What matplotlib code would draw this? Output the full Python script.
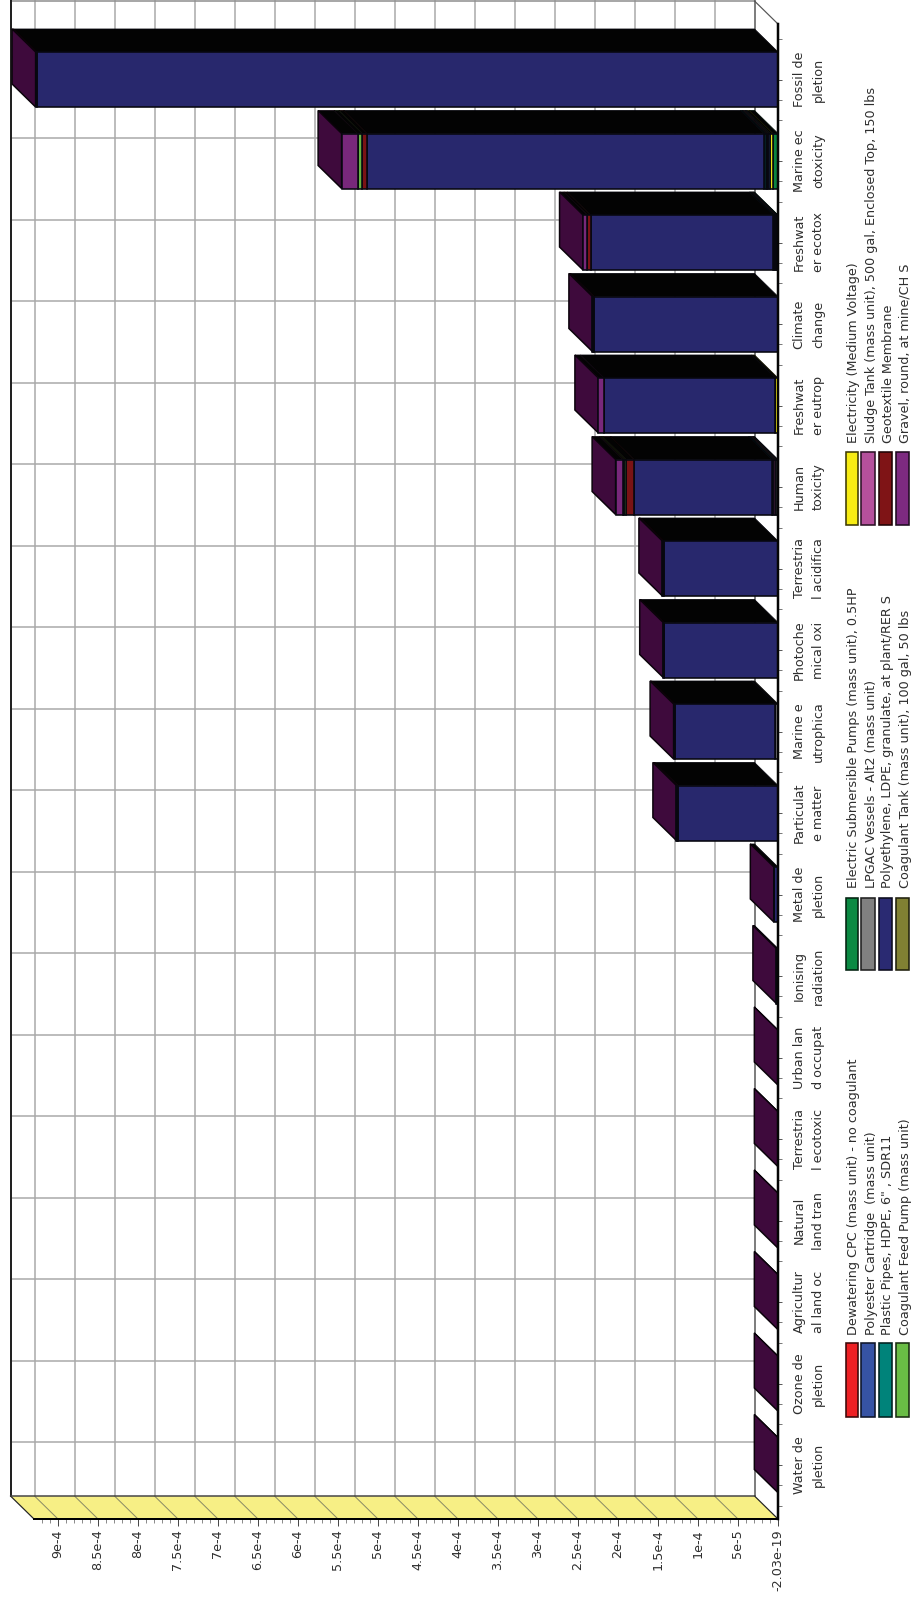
import numpy as np
import matplotlib
matplotlib.use("Agg")
import matplotlib.pyplot as plt
from matplotlib.patches import Polygon, Rectangle
from matplotlib.colors import to_rgb

W, H = 916, 1600

categories = ["Fossil de\npletion", "Marine ec\notoxicity", "Freshwat\ner ecotox", "Climate\nchange",
              "Freshwat\ner eutrop", "Human\ntoxicity", "Terrestria\nl acidifica", "Photoche\nmical oxi",
              "Marine e\nutrophica", "Particulat\ne matter", "Metal de\npletion", "Ionising\nradiation",
              "Urban lan\nd occupat", "Terrestria\nl ecotoxic", "Natural\nland tran", "Agricultur\nal land oc",
              "Ozone de\npletion", "Water de\npletion"]

# values in units of 1e-6, stacking order from the axis outwards
dewatering = [0, 0, 0, 0, 0, 0, 0, 0, 0, 0, 0, 0, 0, 0, 0, 0, 0, 0]
electric_pumps = [0, 6.5, 1.2, 0, 0, 0, 0, 0, 0, 0, 0, 0, 0, 0, 0, 0, 0, 0]
electricity = [0, 3.5, 0, 0, 3.5, 0, 0, 0, 0, 0, 0, 0, 0, 0, 0, 0, 0, 0]
polyester = [0, 2, 1.3, 0, 0, 1.5, 0, 0, 0, 0, 0, 0, 0, 0, 0, 0, 0, 0]
lpgac = [0, 2, 1.3, 0, 0, 2, 0, 0, 3.5, 0, 0, 0, 0, 0, 0, 0, 0, 0]
sludge = [0, 1.5, 1.2, 0, 0, 2.5, 0, 0, 0, 0, 0, 0, 0, 0, 0, 0, 0, 0]
plastic_pipes = [0, 2, 1.2, 0, 0, 1.5, 0, 0, 0, 0, 0, 0, 0, 0, 0, 0, 0, 0]
polyethylene = [926, 496, 228, 230, 214, 172.5, 142.5, 142.5, 125, 125, 5, 1.5, 0.2, 0.2, 0.2, 0.2, 0.2, 0.2]
geotextile = [1, 6, 4, 1, 0, 10, 1, 0.5, 1, 1, 0, 0, 0, 0, 0, 0, 0, 0]
feed_pump = [0, 6, 0, 0, 0, 2, 0, 0, 0, 0, 0, 0, 0, 0, 0, 0, 0, 0]
coag_tank = [0, 0, 0, 0, 0, 2, 0, 0, 0, 0, 0, 0, 0, 0, 0, 0, 0, 0]
gravel = [1, 20, 5.5, 1, 7, 9, 1, 0.5, 1, 1, 0.2, 0.5, 0, 0, 0, 0, 0, 0]

series = [dewatering, electric_pumps, electricity, polyester, lpgac, sludge,
          plastic_pipes, polyethylene, geotextile, feed_pump, coag_tank, gravel]
names = ["Dewatering CPC (mass unit) - no coagulant",
         "Electric Submersible Pumps (mass unit), 0.5HP",
         "Electricity (Medium Voltage)",
         "Polyester Cartridge  (mass unit)",
         "LPGAC Vessels - Alt2 (mass unit)",
         "Sludge Tank (mass unit), 500 gal, Enclosed Top, 150 lbs",
         "Plastic Pipes, HDPE, 6\" , SDR11",
         "Polyethylene, LDPE, granulate, at plant/RER S",
         "Geotextile Membrane",
         "Coagulant Feed Pump (mass unit)",
         "Coagulant Tank (mass unit), 100 gal, 50 lbs",
         "Gravel, round, at mine/CH S"]
colors = ["#ee2024", "#0b8a43", "#f7ec13", "#3653a4", "#808080", "#b5509c",
          "#00837a", "#2a2a72", "#7f1416", "#69bd45", "#808033", "#7d2a80"]

value_ticks = [0, 5e-5, 1e-4, 1.5e-4, 2e-4, 2.5e-4, 3e-4, 3.5e-4, 4e-4, 4.5e-4, 5e-4,
               5.5e-4, 6e-4, 6.5e-4, 7e-4, 7.5e-4, 8e-4, 8.5e-4, 9e-4]
value_labels = ["-2.03e-19", "5e-5", "1e-4", "1.5e-4", "2e-4", "2.5e-4", "3e-4", "3.5e-4", "4e-4",
                "4.5e-4", "5e-4", "5.5e-4", "6e-4", "6.5e-4", "7e-4", "7.5e-4", "8e-4", "8.5e-4", "9e-4"]


def darken(c, f):
    return tuple(v * f for v in to_rgb(c))


TEXT = "#2e2e2e"
FS = 9.2
VALUE_PER_PX = 1.25e-6
CAT_PX = 81.5
DX = 23.5 * VALUE_PER_PX
DY = -23 / CAT_PX
HALF = 27.5 / CAT_PX
PX = 0.72

fig = plt.figure(figsize=(W / 100, H / 100), dpi=100)
ax = fig.add_axes([34 / W, (H - 1519) / H, 744 / W, 1495 / H])
ax.patch.set_visible(False)

x_far = 744 * VALUE_PER_PX
y_top = (24 - 79.5) / CAT_PX
y_bot = (1519 - 79.5) / CAT_PX
y = np.arange(len(categories))

# back wall and grid
for v in value_ticks[1:]:
    ax.plot([v + DX, v + DX], [y_top + DY, y_bot + DY], color="#a8a8a8", lw=1.5 * PX, clip_on=False, zorder=1)
for i in y:
    ax.plot([DX, x_far + DX], [i + DY, i + DY], color="#a8a8a8", lw=1.5 * PX, clip_on=False, zorder=1)
ax.plot([DX, x_far + DX], [y_top + DY, y_top + DY], color="#8c8c8c", lw=1.5 * PX, clip_on=False, zorder=1)
ax.plot([x_far + DX, x_far + DX], [y_top + DY, y_bot + DY], color="#222222", lw=2 * PX, clip_on=False, zorder=2)
ax.plot([DX, DX], [y_top + DY, y_bot + DY], color="#555555", lw=1.5 * PX, clip_on=False, zorder=2)
ax.plot([0, DX], [y_top, y_top + DY], color="#555555", lw=1.2 * PX, clip_on=False, zorder=2)

# floor
ax.add_patch(Polygon([(0, y_bot), (x_far, y_bot), (x_far + DX, y_bot + DY), (DX, y_bot + DY)],
                     facecolor="#f7ef85", edgecolor="none", clip_on=False, zorder=1))
for v in value_ticks[1:]:
    ax.plot([v, v + DX], [y_bot, y_bot + DY], color="#8a8a66", lw=1 * PX, clip_on=False, zorder=1.5)
ax.plot([x_far, x_far + DX], [y_bot, y_bot + DY], color="#222222", lw=1.2 * PX, clip_on=False, zorder=2)
ax.plot([0, DX], [y_bot, y_bot + DY], color="#222222", lw=1.2 * PX, clip_on=False, zorder=2)
ax.plot([DX, x_far + DX], [y_bot + DY, y_bot + DY], color="#444444", lw=1.5 * PX, clip_on=False, zorder=2)

# stacked bars with their top faces, then the end cap
totals = np.zeros(len(categories))
for vals, c in zip(series, colors):
    vals = np.array(vals) * 1e-6
    for i in y:
        if vals[i] == 0:
            continue
        a, b = totals[i], totals[i] + vals[i]
        ax.add_patch(Polygon([(a, i - HALF), (b, i - HALF), (b + DX, i - HALF + DY), (a + DX, i - HALF + DY)],
                             facecolor="#030303", edgecolor=darken(c, 0.1), lw=0.8 * PX,
                             clip_on=False, zorder=3))
    ax.barh(y, vals, height=2 * HALF, left=totals, color=darken(c, 0.96), edgecolor="#07070f",
            linewidth=1.6 * PX, zorder=4)
    totals = totals + vals

for i in y:
    t = totals[i]
    ax.add_patch(Polygon([(t, i - HALF), (t, i + HALF), (t + DX, i + HALF + DY), (t + DX, i - HALF + DY)],
                         facecolor="#3e0a3c", edgecolor="#0a020a", lw=1.5 * PX, clip_on=False, zorder=3.5))

ax.set_xlim(x_far, 0)
ax.set_ylim(y_bot, y_top)

for s in ["left", "top"]:
    ax.spines[s].set_visible(False)
ax.spines["bottom"].set_linewidth(2 * PX)
ax.spines["right"].set_linewidth(2.5 * PX)
ax.spines["right"].set_color("#050505")
ax.spines["right"].set_zorder(6)
ax.spines["bottom"].set_zorder(6)

ax.set_xticks(value_ticks)
ax.set_xticklabels(value_labels, rotation=90, va="top", ha="center", fontsize=FS, color=TEXT)
ax.set_xticks(np.arange(1, 93) * 1e-5, minor=True)
ax.tick_params(axis="x", which="major", length=5, width=0.7, color="#444444", pad=2.5)
ax.tick_params(axis="x", which="minor", length=3, width=0.6, color="#777777")

ax.yaxis.tick_right()
ax.set_yticks(y)
ax.set_yticklabels(categories, rotation=90, va="center", ha="left", multialignment="center",
                   fontsize=FS, color=TEXT, linespacing=1.62)
minor_y = np.concatenate([[-0.5], y + 0.25, y + 0.5])
ax.set_yticks(minor_y, minor=True)
ax.tick_params(axis="y", which="major", length=3, width=0.7, color="#555555", pad=7.5)
ax.tick_params(axis="y", which="minor", length=3, width=0.7, color="#777777")

# legend, three blocks of four rows
row_x = [(846, 858, 854), (861, 875, 871), (879, 892, 888), (896, 909, 905)]
blocks = [(1343, 1417, 1335), (898, 970, 888), (452, 525, 443)]
for n, (name, c) in enumerate(zip(names, colors)):
    row = n // 3
    top, bottom, start = blocks[n % 3]
    x0, x1, xt = row_x[row]
    fig.add_artist(Rectangle((x0 / W, 1 - bottom / H), (x1 - x0) / W, (bottom - top) / H,
                             transform=fig.transFigure, facecolor=c, edgecolor=darken(c, 0.25), lw=1.6 * PX))
    fig.text(xt / W, 1 - start / H, name, rotation=90, ha="center", va="bottom", fontsize=FS, color=TEXT)

fig.savefig("out.png", dpi=100)
